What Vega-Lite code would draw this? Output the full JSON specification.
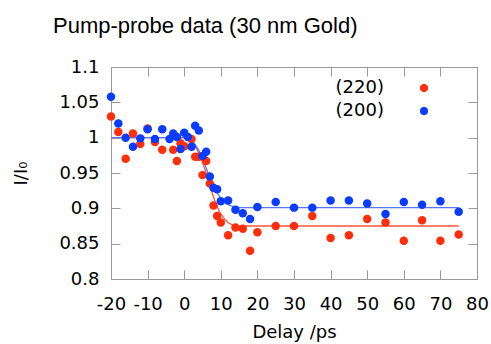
{
  "$schema": "https://vega.github.io/schema/vega-lite/v6.json",
  "width": 366,
  "height": 212,
  "autosize": {"type": "none"},
  "padding": {"left": 111, "top": 67, "right": 14, "bottom": 65},
  "background": "white",
  "title": {"text": "Pump-probe data (30 nm Gold)", "anchor": "start", "frame": "group", "dx": -58, "fontSize": 22, "font": "Liberation Sans", "fontWeight": "normal", "offset": 20, "color": "#000"},
  "config": {
    "view": {"stroke": "#999", "strokeWidth": 1},
    "axis": {"labelFont": "DejaVu Sans", "titleFont": "DejaVu Sans", "labelFontSize": 18, "titleFontSize": 18, "titleFontWeight": "normal", "labelColor": "#000", "titleColor": "#000", "tickColor": "#999", "domain": false, "grid": false, "tickSize": -9}
  },
  "datasets": {
    "pts": [
      {"x": -20, "y": 1.030, "s": "(220)"}, {"x": -18, "y": 1.008, "s": "(220)"}, {"x": -16, "y": 0.970, "s": "(220)"},
      {"x": -14, "y": 1.006, "s": "(220)"}, {"x": -12, "y": 0.991, "s": "(220)"}, {"x": -10, "y": 1.013, "s": "(220)"},
      {"x": -8, "y": 0.994, "s": "(220)"}, {"x": -6, "y": 0.983, "s": "(220)"}, {"x": -3, "y": 0.983, "s": "(220)"},
      {"x": -2, "y": 0.967, "s": "(220)"}, {"x": -1, "y": 0.992, "s": "(220)"}, {"x": 0, "y": 0.988, "s": "(220)"},
      {"x": 2, "y": 0.998, "s": "(220)"}, {"x": 3, "y": 0.973, "s": "(220)"}, {"x": 4, "y": 0.973, "s": "(220)"},
      {"x": 5, "y": 0.947, "s": "(220)"}, {"x": 6, "y": 0.967, "s": "(220)"}, {"x": 7, "y": 0.935, "s": "(220)"},
      {"x": 8, "y": 0.904, "s": "(220)"}, {"x": 9, "y": 0.889, "s": "(220)"}, {"x": 10, "y": 0.880, "s": "(220)"},
      {"x": 12, "y": 0.862, "s": "(220)"}, {"x": 14, "y": 0.873, "s": "(220)"}, {"x": 16, "y": 0.871, "s": "(220)"},
      {"x": 18, "y": 0.840, "s": "(220)"}, {"x": 20, "y": 0.866, "s": "(220)"}, {"x": 25, "y": 0.875, "s": "(220)"},
      {"x": 30, "y": 0.875, "s": "(220)"}, {"x": 35, "y": 0.889, "s": "(220)"}, {"x": 40, "y": 0.858, "s": "(220)"},
      {"x": 45, "y": 0.862, "s": "(220)"}, {"x": 50, "y": 0.885, "s": "(220)"}, {"x": 55, "y": 0.880, "s": "(220)"},
      {"x": 60, "y": 0.854, "s": "(220)"}, {"x": 65, "y": 0.883, "s": "(220)"}, {"x": 70, "y": 0.854, "s": "(220)"},
      {"x": 75, "y": 0.863, "s": "(220)"},
      {"x": -20, "y": 1.058, "s": "(200)"}, {"x": -18, "y": 1.020, "s": "(200)"}, {"x": -16, "y": 1.000, "s": "(200)"},
      {"x": -14, "y": 0.987, "s": "(200)"}, {"x": -12, "y": 0.999, "s": "(200)"}, {"x": -10, "y": 1.012, "s": "(200)"},
      {"x": -8, "y": 0.998, "s": "(200)"}, {"x": -6, "y": 1.012, "s": "(200)"}, {"x": -4, "y": 0.998, "s": "(200)"},
      {"x": -3, "y": 1.006, "s": "(200)"}, {"x": -2, "y": 1.001, "s": "(200)"}, {"x": -1, "y": 0.984, "s": "(200)"},
      {"x": 0, "y": 1.007, "s": "(200)"}, {"x": 1, "y": 1.001, "s": "(200)"}, {"x": 2, "y": 0.987, "s": "(200)"},
      {"x": 3, "y": 1.017, "s": "(200)"}, {"x": 4, "y": 1.010, "s": "(200)"}, {"x": 5, "y": 0.974, "s": "(200)"},
      {"x": 6, "y": 0.980, "s": "(200)"}, {"x": 7, "y": 0.945, "s": "(200)"}, {"x": 8, "y": 0.929, "s": "(200)"},
      {"x": 9, "y": 0.927, "s": "(200)"}, {"x": 10, "y": 0.910, "s": "(200)"}, {"x": 12, "y": 0.911, "s": "(200)"},
      {"x": 14, "y": 0.898, "s": "(200)"}, {"x": 16, "y": 0.893, "s": "(200)"}, {"x": 18, "y": 0.885, "s": "(200)"},
      {"x": 20, "y": 0.902, "s": "(200)"}, {"x": 25, "y": 0.909, "s": "(200)"}, {"x": 30, "y": 0.901, "s": "(200)"},
      {"x": 35, "y": 0.901, "s": "(200)"}, {"x": 40, "y": 0.911, "s": "(200)"}, {"x": 45, "y": 0.911, "s": "(200)"},
      {"x": 50, "y": 0.907, "s": "(200)"}, {"x": 55, "y": 0.892, "s": "(200)"}, {"x": 60, "y": 0.909, "s": "(200)"},
      {"x": 65, "y": 0.905, "s": "(200)"}, {"x": 70, "y": 0.910, "s": "(200)"}, {"x": 75, "y": 0.895, "s": "(200)"}
    ],
    "fit": [
      {"x": -20, "y": 1.0, "s": "fit (220)"}, {"x": 0, "y": 1.0, "s": "fit (220)"}, {"x": 2, "y": 0.996, "s": "fit (220)"},
      {"x": 3, "y": 0.988, "s": "fit (220)"}, {"x": 4, "y": 0.978, "s": "fit (220)"}, {"x": 5, "y": 0.965, "s": "fit (220)"},
      {"x": 6, "y": 0.950, "s": "fit (220)"}, {"x": 7, "y": 0.933, "s": "fit (220)"}, {"x": 8, "y": 0.916, "s": "fit (220)"},
      {"x": 9, "y": 0.902, "s": "fit (220)"}, {"x": 10, "y": 0.892, "s": "fit (220)"}, {"x": 11, "y": 0.885, "s": "fit (220)"},
      {"x": 12, "y": 0.880, "s": "fit (220)"}, {"x": 13, "y": 0.877, "s": "fit (220)"}, {"x": 15, "y": 0.875, "s": "fit (220)"},
      {"x": 75, "y": 0.875, "s": "fit (220)"},
      {"x": -20, "y": 1.0, "s": "fit (200)"}, {"x": 0, "y": 1.0, "s": "fit (200)"}, {"x": 2, "y": 0.997, "s": "fit (200)"},
      {"x": 3, "y": 0.990, "s": "fit (200)"}, {"x": 4, "y": 0.982, "s": "fit (200)"}, {"x": 5, "y": 0.970, "s": "fit (200)"},
      {"x": 6, "y": 0.957, "s": "fit (200)"}, {"x": 7, "y": 0.944, "s": "fit (200)"}, {"x": 8, "y": 0.932, "s": "fit (200)"},
      {"x": 9, "y": 0.922, "s": "fit (200)"}, {"x": 10, "y": 0.914, "s": "fit (200)"}, {"x": 11, "y": 0.909, "s": "fit (200)"},
      {"x": 12, "y": 0.905, "s": "fit (200)"}, {"x": 13, "y": 0.903, "s": "fit (200)"}, {"x": 15, "y": 0.901, "s": "fit (200)"},
      {"x": 75, "y": 0.901, "s": "fit (200)"}
    ]
  },
  "layer": [
    {
      "data": {"name": "fit"},
      "mark": {"type": "line", "strokeWidth": 1.3},
      "encoding": {
        "x": {"field": "x", "type": "quantitative", "scale": {"domain": [-20, 80], "nice": false}, "axis": {"orient": "bottom", "title": "Delay /ps", "values": [-20, -10, 0, 10, 20, 30, 40, 50, 60, 70, 80], "labelExpr": "'' + datum.value", "labelPadding": 25, "titlePadding": 10, "labelFlush": false}},
        "y": {"field": "y", "type": "quantitative", "scale": {"domain": [0.8, 1.1], "nice": false, "zero": false}, "axis": {"orient": "left", "title": "I/I₀", "values": [0.8, 0.85, 0.9, 0.95, 1, 1.05, 1.1], "format": ".3~g", "labelPadding": 21, "titlePadding": 28, "labelFlush": false}},
        "stroke": {"field": "s", "type": "nominal", "scale": {"domain": ["fit (220)", "fit (200)"], "range": ["#ff553f", "#5577ff"]}, "legend": null},
        "detail": {"field": "s"}
      }
    },
    {
      "data": {"name": "pts"},
      "mark": {"type": "circle", "size": 72, "opacity": 1},
      "encoding": {
        "x": {"field": "x", "type": "quantitative", "axis": {"orient": "top", "title": null, "labels": false, "values": [-20, -10, 0, 10, 20, 30, 40, 50, 60, 70, 80]}},
        "y": {"field": "y", "type": "quantitative", "axis": {"orient": "right", "title": null, "labels": false, "values": [0.8, 0.85, 0.9, 0.95, 1, 1.05, 1.1]}},
        "color": {"field": "s", "type": "nominal", "scale": {"domain": ["(220)", "(200)"], "range": ["#ff2e0a", "#0a3cff"]}, "legend": {"title": null, "orient": "none", "legendX": 304, "legendY": 12, "labelAlign": "right", "labelOffset": -49, "labelFont": "DejaVu Sans", "labelFontSize": 18, "labelColor": "#000", "symbolType": "circle", "symbolSize": 64, "symbolStrokeWidth": 0, "rowPadding": 5, "padding": 0}},
        "order": {"field": "s", "sort": "descending"}
      }
    }
  ],
  "resolve": {"axis": {"x": "independent", "y": "independent"}}
}
